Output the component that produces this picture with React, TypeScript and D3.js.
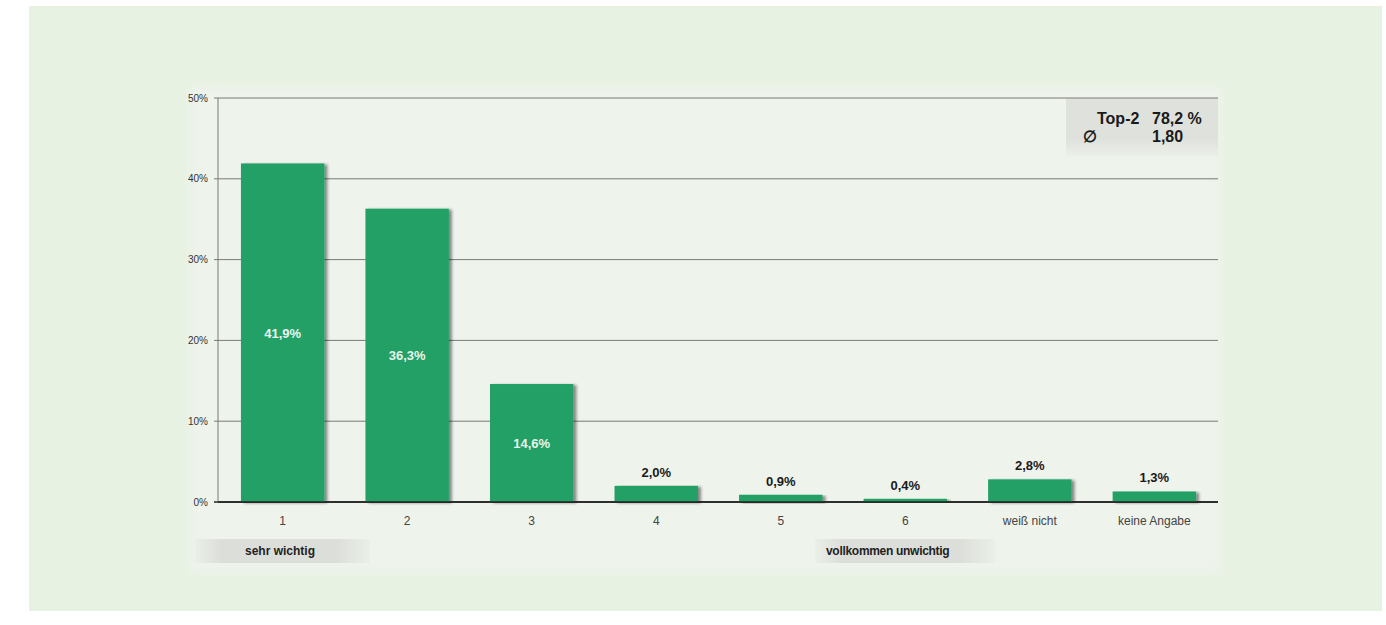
import React from "react";
import * as d3 from "d3";

const categories = ["1", "2", "3", "4", "5", "6", "weiß nicht", "keine Angabe"];
const values = [41.9, 36.3, 14.6, 2.0, 0.9, 0.4, 2.8, 1.3];
const valueLabels = ["41,9%", "36,3%", "14,6%", "2,0%", "0,9%", "0,4%", "2,8%", "1,3%"];
const yTicks = [0, 10, 20, 30, 40, 50];
const insideLabel = [true, true, true, false, false, false, false, false];
const summaryRows = [
  ["Top-2", "78,2 %"],
  ["∅", "1,80"],
];
const scaleEnds = ["sehr wichtig", "vollkommen unwichtig"];

export default function App() {
  const W = 1386, H = 625;
  const plotLeft = 218, plotRight = 1218, plotTop = 98, plotBottom = 502;
  const x = d3.scaleBand<string>().domain(categories).range([221, 1216]).paddingInner(0.33).paddingOuter(0.16);
  const y = d3.scaleLinear().domain([0, 50]).range([plotBottom, plotTop]);
  const font = "'Liberation Sans', Arial, sans-serif";
  return (
    <svg width={W} height={H} style={{ position: "absolute", left: 0, top: 0 }} fontFamily={font}>
      <defs>
        <filter id="sh" x="-10%" y="-10%" width="130%" height="130%">
          <feGaussianBlur in="SourceAlpha" stdDeviation="1.5" />
          <feOffset dx="3" dy="1" result="b" />
          <feComponentTransfer><feFuncA type="linear" slope="0.45" /></feComponentTransfer>
          <feMerge><feMergeNode /><feMergeNode in="SourceGraphic" /></feMerge>
        </filter>
        <filter id="soft" x="-5%" y="-5%" width="110%" height="110%">
          <feGaussianBlur stdDeviation="4" />
        </filter>
        <linearGradient id="lg1" x1="0" x2="1" y1="0" y2="0">
          <stop offset="0" stopColor="#dcdfd9" stopOpacity="0.2" />
          <stop offset="0.15" stopColor="#dcdfd9" />
          <stop offset="0.8" stopColor="#dcdfd9" />
          <stop offset="1" stopColor="#dcdfd9" stopOpacity="0.2" />
        </linearGradient>
        <linearGradient id="lg2" x1="0" x2="0" y1="0" y2="1">
          <stop offset="0" stopColor="#dfe2dc" />
          <stop offset="0.7" stopColor="#dfe2dc" />
          <stop offset="1" stopColor="#dfe2dc" stopOpacity="0.2" />
        </linearGradient>
      </defs>
      <rect x={0} y={0} width={W} height={H} fill="#ffffff" />
      <rect x={29} y={6} width={1353} height={605} fill="#e8f2e3" />
      <rect x={190} y={86} width={1030} height={486} fill="#eef3ec" filter="url(#soft)" />
      {/* summary box */}
      <rect x={1066} y={plotTop} width={plotRight - 1066} height={58} fill="url(#lg2)" />
      {/* gridlines */}
      {yTicks.map((t) => (
        <line key={t} x1={plotLeft - 4} x2={plotRight} y1={y(t)} y2={y(t)} stroke={t === 0 ? "#222" : "#7a7a72"} strokeWidth={t === 0 ? 1.5 : 1} />
      ))}
      <line x1={plotLeft} x2={plotLeft} y1={plotTop} y2={plotBottom} stroke="#7a7a72" />
      {yTicks.map((t) => (
        <text key={t} x={208} y={y(t) + 3.5} textAnchor="end" fontSize={10} fill="#333">{`${t}%`}</text>
      ))}
      {/* bars */}
      {categories.map((c, i) => (
        <rect key={c} x={x(c)} y={y(values[i])} width={x.bandwidth()} height={plotBottom - y(values[i])} fill="#22a066" filter="url(#sh)" />
      ))}
      <line x1={plotLeft} x2={plotRight} y1={plotBottom} y2={plotBottom} stroke="#222" strokeWidth={1.5} />
      {categories.map((c, i) => {
        const cx = (x(c) as number) + x.bandwidth() / 2;
        const inside = insideLabel[i];
        const ly = inside ? (y(values[i]) + plotBottom) / 2 + 5 : y(values[i]) - 9;
        return (
          <text key={c} x={cx} y={ly} textAnchor="middle" fontSize={13} fontWeight="bold" fill={inside ? "#e8f5ec" : "#1a1a1a"}>{valueLabels[i]}</text>
        );
      })}
      {categories.map((c) => (
        <text key={c} x={(x(c) as number) + x.bandwidth() / 2} y={525} textAnchor="middle" fontSize={12} fill="#444">{c}</text>
      ))}
      {/* scale end labels */}
      <rect x={195} y={539} width={175} height={24} fill="url(#lg1)" />
      <text x={245} y={555} fontSize={12} fontWeight="bold" fill="#222">{scaleEnds[0]}</text>
      <rect x={815} y={539} width={180} height={24} fill="url(#lg1)" />
      <text x={826} y={555} fontSize={12} fontWeight="bold" fill="#222" letterSpacing={-0.3}>{scaleEnds[1]}</text>
      {/* summary */}
      {summaryRows.map((r, i) => (
        <g key={i}>
          <text x={i === 0 ? 1097 : 1083} y={124 + i * 18} fontSize={16} fontWeight="bold" fill="#1a1a1a">{r[0]}</text>
          <text x={1152} y={124 + i * 18} fontSize={16} fontWeight="bold" fill="#1a1a1a">{r[1]}</text>
        </g>
      ))}
    </svg>
  );
}
